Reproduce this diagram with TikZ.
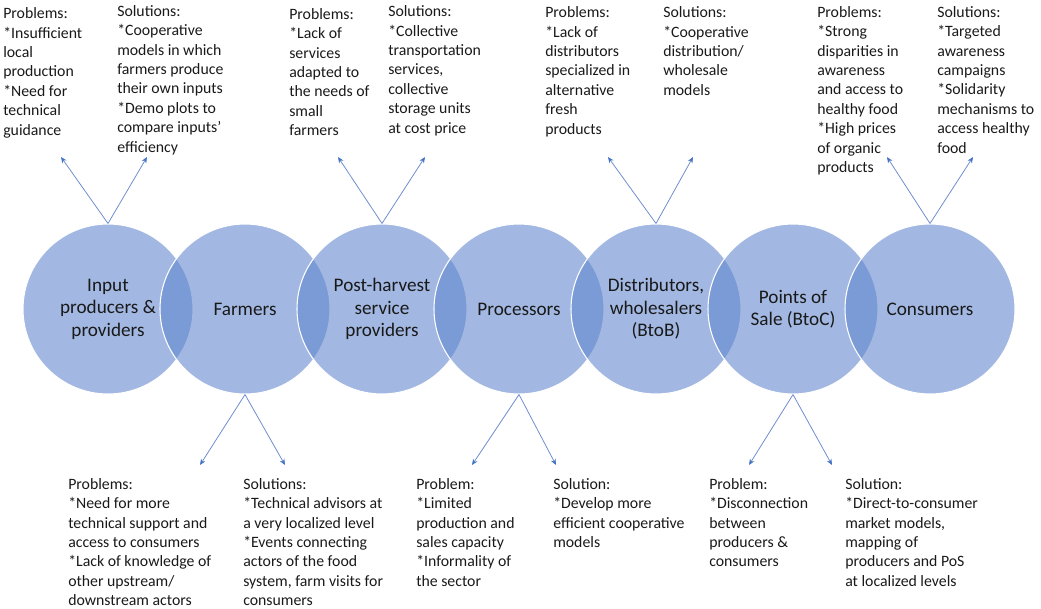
\documentclass[tikz,border=0pt]{standalone}
\usepackage{fontspec}
\setmainfont{Carlito}
\usetikzlibrary{arrows.meta}

\definecolor{ringfill}{RGB}{95,133,205}
\definecolor{linkblue}{RGB}{112,142,206}
\definecolor{tipblue}{RGB}{68,114,196}
\definecolor{ink}{RGB}{25,25,25}

\begin{document}
\begin{tikzpicture}[x=0.75pt,y=-0.75pt,
  stage/.style={circle, minimum size=127.5pt, inner sep=0pt, fill=ringfill,
    fill opacity=0.58, text opacity=1, draw=white, line width=0.8pt,
    align=center, text=ink, font=\fontsize{14.4}{16.9}\selectfont},
  note/.style={anchor=north west, inner sep=0pt, align=left, text=ink,
    font=\fontsize{11.85}{14.55}\selectfont},
  link/.style={draw=linkblue, line width=0.6pt,
    -{Stealth[length=4.5pt,width=3.8pt,color=tipblue]}}]

\useasboundingbox (0,0) rectangle (1041,608);

% the seven actors of the chain
\node[stage] (c1) at (108,309) {Input\\producers \&\\providers};
\node[stage] (c2) at (245,309) {Farmers};
\node[stage] (c3) at (382,309) {Post-harvest\\service\\providers};
\node[stage] (c4) at (519,309) {Processors};
\node[stage] (c5) at (656,309) {Distributors,\\wholesalers\\(BtoB)};
\node[stage] (c6) at (793,309) {Points of\\Sale (BtoC)};
\node[stage] (c7) at (930,309) {Consumers};

% problems and solutions above the chain
\node[note] (p1) at (3,7.5) {Problems:\\*Insufficient\\local\\production\\*Need for\\technical\\guidance};
\node[note] (s1) at (117,5) {Solutions:\\*Cooperative\\models in which\\farmers produce\\their own inputs\\*Demo plots to\\compare inputs'\\efficiency};
\node[note] (p3) at (289,8) {Problems:\\*Lack of\\services\\adapted to\\the needs of\\small\\farmers};
\node[note] (s3) at (388,5.5) {Solutions:\\*Collective\\transportation\\services,\\collective\\storage units\\at cost price};
\node[note] (p5) at (545,6.5) {Problems:\\*Lack of\\distributors\\specialized in\\alternative\\fresh\\products};
\node[note] (s5) at (663,6.5) {Solutions:\\*Cooperative\\distribution/\\wholesale\\models};
\node[note] (p7) at (817,6) {Problems:\\*Strong\\disparities in\\awareness\\and access to\\healthy food\\*High prices\\of organic\\products};
\node[note] (s7) at (937,6) {Solutions:\\*Targeted\\awareness\\campaigns\\*Solidarity\\mechanisms to\\access healthy\\food};

% problems and solutions below the chain
\node[note] (p2) at (68,478) {Problems:\\*Need for more\\technical support and\\access to consumers\\*Lack of knowledge of\\other upstream/\\downstream actors};
\node[note] (s2) at (243,478) {Solutions:\\*Technical advisors at\\a very localized level\\*Events connecting\\actors of the food\\system, farm visits for\\consumers};
\node[note] (p4) at (416,478) {Problem:\\*Limited\\production and\\sales capacity\\*Informality of\\the sector};
\node[note] (s4) at (553,478) {Solution:\\*Develop more\\efficient cooperative\\models};
\node[note] (p6) at (709,478) {Problem:\\*Disconnection\\between\\producers \&\\consumers};
\node[note] (s6) at (845,478) {Solution:\\*Direct-to-consumer\\market models,\\mapping of\\producers and PoS\\at localized levels};

% arrow tips
\coordinate (t1a) at (61,157);  \coordinate (t1b) at (147,157);
\coordinate (t3a) at (338,157); \coordinate (t3b) at (425,157);
\coordinate (t5a) at (608,157); \coordinate (t5b) at (693,157);
\coordinate (t7a) at (887,157); \coordinate (t7b) at (973,157);
\coordinate (t2a) at (200,465); \coordinate (t2b) at (285,465);
\coordinate (t4a) at (472,465); \coordinate (t4b) at (556,465);
\coordinate (t6a) at (749,465); \coordinate (t6b) at (832,465);

\foreach \c/\a/\b in {c1/t1a/t1b, c3/t3a/t3b, c5/t5a/t5b, c7/t7a/t7b}{
  \draw[link] (\c.north) -- (\a);
  \draw[link] (\c.north) -- (\b);
}
\foreach \c/\a/\b in {c2/t2a/t2b, c4/t4a/t4b, c6/t6a/t6b}{
  \draw[link] (\c.south) -- (\a);
  \draw[link] (\c.south) -- (\b);
}
\end{tikzpicture}
\end{document}
